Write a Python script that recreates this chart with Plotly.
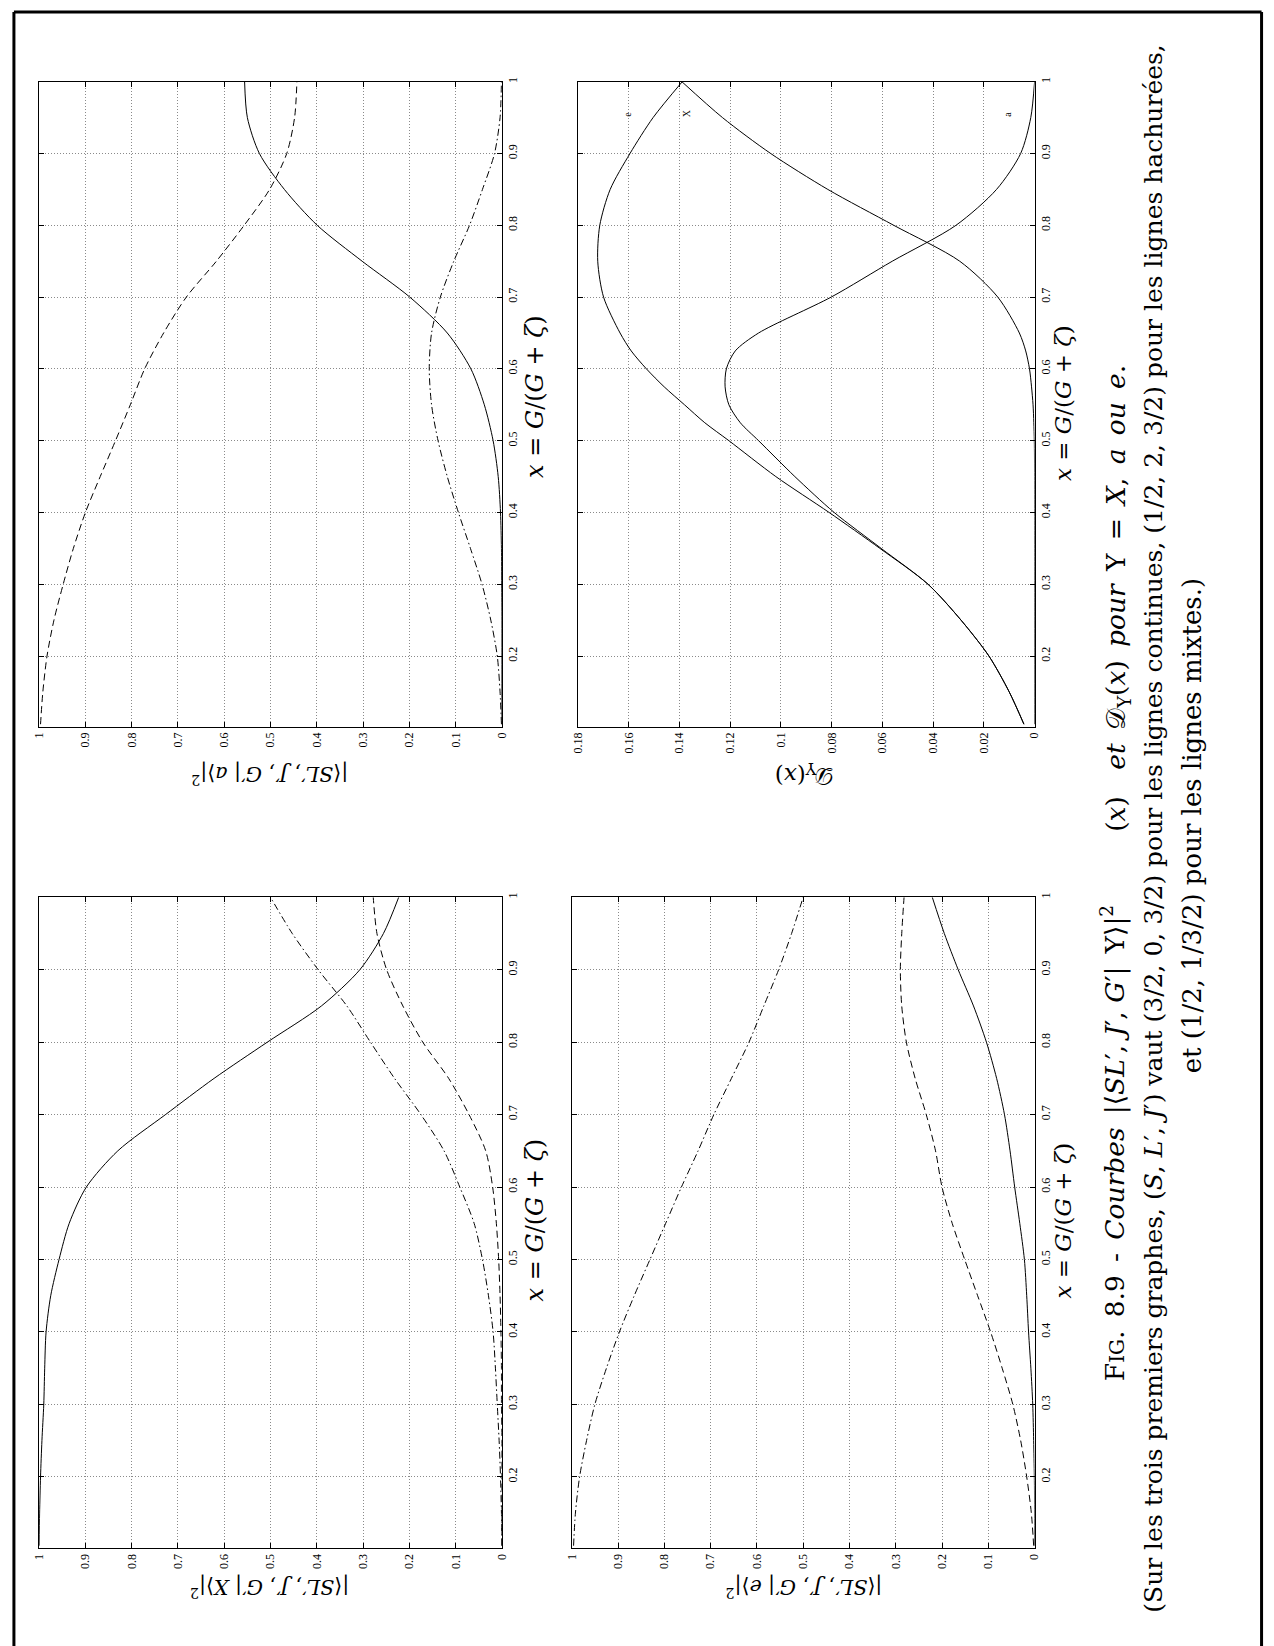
import plotly.graph_objects as go

W, H = 1274, 1646
FONT = "Liberation Serif"
TFONT = "DejaVu Serif"

# ---------------- data ----------------
# x = G/(G+zeta) sample points (vertical axis on the rotated page)
G = [0.105, 0.15, 0.2, 0.25, 0.3, 0.35, 0.4, 0.45, 0.5, 0.55, 0.6, 0.65,
     0.7, 0.75, 0.8, 0.85, 0.9, 0.95, 1.0]

# |<SL',J',G'|a>|^2
a_cont = [0.0, 0.0, 0.0, 0.0, 0.0005, 0.001, 0.003, 0.008, 0.019, 0.038, 0.067, 0.118,
          0.199, 0.302, 0.399, 0.47, 0.524, 0.55, 0.556]
a_hach = [0.997, 0.992, 0.983, 0.968, 0.948, 0.926, 0.90, 0.868, 0.835, 0.803, 0.772, 0.731,
          0.682, 0.617, 0.557, 0.502, 0.465, 0.448, 0.443]
a_mixt = [0.001, 0.004, 0.010, 0.024, 0.043, 0.068, 0.094, 0.118, 0.138, 0.152, 0.157, 0.152,
          0.133, 0.104, 0.070, 0.042, 0.016, 0.004, 0.001]

# |<SL',J',G'|X>|^2
X_cont = [1.0, 0.999, 0.997, 0.994, 0.99, 0.988, 0.985, 0.975, 0.957, 0.935, 0.898, 0.83,
          0.727, 0.622, 0.507, 0.39, 0.307, 0.256, 0.223]
X_hach = [0.0, 0.0, 0.0, 0.0, 0.001, 0.001, 0.002, 0.004, 0.007, 0.012, 0.02, 0.035,
          0.071, 0.115, 0.171, 0.214, 0.249, 0.27, 0.278]
X_mixt = [0.0, 0.001, 0.003, 0.006, 0.01, 0.014, 0.019, 0.029, 0.042, 0.06, 0.091, 0.125,
          0.175, 0.232, 0.284, 0.335, 0.397, 0.453, 0.50]

# |<SL',J',G'|e>|^2
e_cont = [0.0, 0.0, 0.0005, 0.002, 0.004, 0.008, 0.013, 0.017, 0.022, 0.032, 0.043, 0.053,
          0.065, 0.082, 0.104, 0.132, 0.165, 0.195, 0.221]
e_hach = [0.002, 0.007, 0.017, 0.03, 0.047, 0.07, 0.095, 0.123, 0.151, 0.178, 0.2, 0.214,
          0.234, 0.258, 0.277, 0.287, 0.29, 0.287, 0.282]
e_mixt = [0.996, 0.992, 0.983, 0.968, 0.95, 0.925, 0.897, 0.865, 0.831, 0.797, 0.763, 0.727,
          0.693, 0.655, 0.617, 0.585, 0.553, 0.525, 0.5]

# D_Upsilon(x)
G_D = [0.105, 0.15, 0.2, 0.25, 0.3, 0.35, 0.4, 0.45, 0.5, 0.525, 0.55, 0.575, 0.6, 0.625,
       0.65, 0.7, 0.75, 0.8, 0.85, 0.9, 0.95, 1.0]
D_e = [0.0042, 0.010, 0.018, 0.029, 0.042, 0.061, 0.081, 0.102, 0.1205, 0.130, 0.138, 0.146,
       0.153, 0.159, 0.1634, 0.1699, 0.1722, 0.1714, 0.1673, 0.1595, 0.1504, 0.1389]
D_a = [0.0042, 0.010, 0.018, 0.029, 0.042, 0.0605, 0.079, 0.0945, 0.1088, 0.116, 0.1205, 0.122,
       0.1215, 0.118, 0.1088, 0.0802, 0.0561, 0.031, 0.015, 0.0055, 0.0015, 0.0]
D_X = [0.0, 0.0, 0.0, 0.0, 0.0, 0.0, 0.0, 0.0, 0.0001, 0.0003, 0.0006, 0.0012, 0.002, 0.0035,
       0.006, 0.0145, 0.0295, 0.0555, 0.0815, 0.104, 0.123, 0.139]
D_labels = ["e", "X", "a"]
D_label_pos = [(0.1608, 0.955), (0.1374, 0.956), (0.011, 0.955)]

# tick values / labels
prob_ticks = [0, 0.1, 0.2, 0.3, 0.4, 0.5, 0.6, 0.7, 0.8, 0.9, 1]
prob_ticktext = ["0", "0.1", "0.2", "0.3", "0.4", "0.5", "0.6", "0.7", "0.8", "0.9", "1"]
D_ticks = [0, 0.02, 0.04, 0.06, 0.08, 0.1, 0.12, 0.14, 0.16, 0.18]
D_ticktext = ["0", "0.02", "0.04", "0.06", "0.08", "0.1", "0.12", "0.14", "0.16", "0.18"]
g_ticks = [0.2, 0.3, 0.4, 0.5, 0.6, 0.7, 0.8, 0.9, 1]
g_ticktext = ["0.2", "0.3", "0.4", "0.5", "0.6", "0.7", "0.8", "0.9", "1"]

# ---------------- layout geometry (page pixels) ----------------
panels = {
    1: dict(x0=32.5, x1=500.4, y0=77, y1=724),    # a
    2: dict(x0=577.3, x1=1039, y0=77, y1=724),    # D
    3: dict(x0=32.5, x1=500.4, y0=895, y1=1548),  # X
    4: dict(x0=571, x1=1039, y0=895, y1=1548),    # e
}
G_RANGE = [0.1014, 1.0]

DASH = "7px,4px"
DASHDOT = "7px,3px,1.5px,3px"

fig = go.Figure()

def add(panel, xs, ys, dash):
    sfx = "" if panel == 1 else str(panel)
    fig.add_trace(go.Scatter(
        x=xs, y=ys, mode="lines", xaxis="x" + sfx, yaxis="y" + sfx,
        line=dict(color="black", width=1, dash=dash, shape="spline", smoothing=0.8),
        showlegend=False, hoverinfo="skip"))

add(1, a_cont, G, "solid"); add(1, a_hach, G, DASH); add(1, a_mixt, G, DASHDOT)
add(2, D_e, G_D, "solid"); add(2, D_a, G_D, "solid"); add(2, D_X, G_D, "solid")
add(3, X_cont, G, "solid"); add(3, X_hach, G, DASH); add(3, X_mixt, G, DASHDOT)
add(4, e_cont, G, "solid"); add(4, e_hach, G, DASH); add(4, e_mixt, G, DASHDOT)

tickfont = dict(family=FONT, size=12, color="black")
common = dict(showline=True, linecolor="black", linewidth=1, mirror="ticks",
              ticks="inside", ticklen=5, tickcolor="black", tickwidth=1,
              showgrid=True, gridcolor="#8a8a8a", gridwidth=1, griddash="1px,2px",
              zeroline=False, tickfont=tickfont, fixedrange=True)

layout = {}
for i, p in panels.items():
    sfx = "" if i == 1 else str(i)
    if i == 2:
        xr, tv, tt = [0.18, 0], D_ticks, D_ticktext
    else:
        xr, tv, tt = [1, 0], prob_ticks, prob_ticktext
    layout["xaxis" + sfx] = dict(
        domain=[p["x0"] / W, p["x1"] / W], range=xr, tickvals=tv, ticktext=tt,
        tickangle=-90, side="bottom", anchor="y" + sfx, **common)
    layout["yaxis" + sfx] = dict(
        domain=[1 - p["y1"] / H, 1 - p["y0"] / H], range=G_RANGE,
        tickvals=g_ticks, ticktext=g_ticktext, tickangle=-90, side="right",
        anchor="x" + sfx, **common)

ann = []
def page_text(text, x, y, size, angle, family=TFONT):
    ann.append(dict(text=text, x=x / W, y=1 - y / H, xref="paper", yref="paper",
                    showarrow=False, textangle=angle, xanchor="center", yanchor="middle",
                    font=dict(family=family, size=size, color="black")))

xlabel = "<i>x</i> = <i>G</i>/(<i>G</i> + <i>ζ</i>)"
page_text(xlabel, 534, 393, 24, -90)
page_text(xlabel, 1068, 399, 23, -90)
page_text(xlabel, 534, 1219, 24, -90)
page_text(xlabel, 1068, 1219, 23, -90)

def ylab(sym):
    return ("|⟨<i>SL</i>′, <i>J</i>′, <i>G</i>′| " + sym + "⟩|<sup>2</sup>")

page_text(ylab("<i>a</i>"), 266, 772, 20.5, 180)
page_text("𝒟<sub>Υ</sub>(<i>x</i>)", 806, 772, 23, 180)
page_text(ylab("<i>X</i>"), 266, 1587, 20.5, 180)
page_text(ylab("<i>e</i>"), 806, 1587, 20.5, 180)

for lab, (vx, vy) in zip(D_labels, D_label_pos):
    ann.append(dict(text=lab, x=vx, y=vy, xref="x2", yref="y2", showarrow=False,
                    textangle=-90, font=dict(family=FONT, size=10, color="black")))

EN = "\u2002"
cap1a = ("F<span style='font-size:20px'>IG</span>." + EN + "8.9" + EN + "-" + EN +
         "<i>Courbes</i>" + EN + "|⟨<i>SL</i>′, <i>J</i>′, <i>G</i>′|" + EN +
         "Υ⟩|<sup>2</sup>")
cap1b = ("(<i>x</i>)\u2003<i>et</i>" + EN + "𝒟<sub>Υ</sub>(<i>x</i>)" + EN + "<i>pour</i>" + EN +
         "Υ" + EN + "=" + EN + "<i>X</i>," + EN + "<i>a</i>" + EN + "<i>ou</i>" + EN + "<i>e</i>.")
cap2 = ("(Sur les trois premiers graphes, (<i>S</i>, <i>L</i>′, <i>J</i>′) vaut (3/2, 0, 3/2) "
        "pour les lignes continues, (1/2, 2, 3/2) pour les lignes hachurées,")
cap3 = "et (1/2, 1/3/2) pour les lignes mixtes.)"
page_text(cap1a, 1119, 1142, 26.5, -90)
page_text(cap1b, 1123, 595, 26.5, -90)
page_text(cap2, 1159, 826, 25, -90)
page_text(cap3, 1198, 823, 26, -90)

layout["annotations"] = ann
layout["shapes"] = [
    dict(type="line", xref="paper", yref="paper", x0=7 / W, x1=7 / W, y0=1 - 7 / H, y1=-0.05,
         line=dict(color="black", width=3)),
    dict(type="line", xref="paper", yref="paper", x0=7 / W, x1=1268.5 / W, y0=1 - 7 / H,
         y1=1 - 7 / H, line=dict(color="black", width=3)),
    dict(type="line", xref="paper", yref="paper", x0=1268.5 / W, x1=1268.5 / W,
         y0=1 - 7 / H, y1=-0.05, line=dict(color="black", width=3)),
]

fig.update_layout(width=W, height=H, margin=dict(l=0, r=0, t=0, b=0),
                  paper_bgcolor="white", plot_bgcolor="white",
                  font=dict(family=FONT, color="black"), **layout)

fig.write_html("out.html", config={"displayModeBar": False},
               post_script="document.body.style.margin='0';"
                           "document.body.style.overflow='hidden';")
